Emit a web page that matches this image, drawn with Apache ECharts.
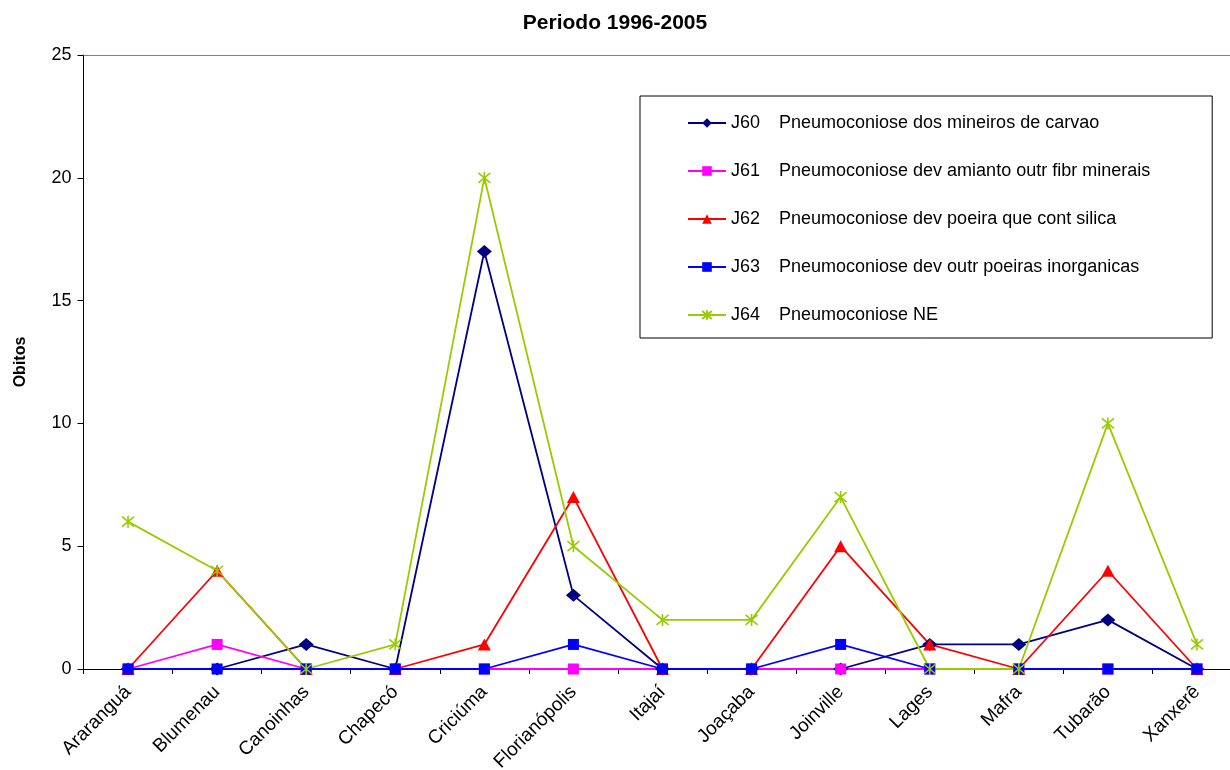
<!DOCTYPE html>
<html>
<head>
<meta charset="utf-8">
<script src="https://cdn.jsdelivr.net/npm/echarts@6/dist/echarts.min.js"></script>
<style>
  html, body { margin: 0; padding: 0; background: #fff; }
  #chart { width: 1230px; height: 770px; }
</style>
</head>
<body>
<div id="chart"></div>
<script>
const cities = ['Araranguá', 'Blumenau', 'Canoinhas', 'Chapecó', 'Criciúma', 'Florianópolis', 'Itajaí', 'Joaçaba', 'Joinville', 'Lages', 'Mafra', 'Tubarão', 'Xanxerê']

const j60 = [0, 0, 1, 0, 17, 3, 0, 0, 0, 1, 1, 2, 0]
const j61 = [0, 1, 0, 0, 0, 0, 0, 0, 0, 0, 0, 0, 0]
const j62 = [0, 4, 0, 0, 1, 7, 0, 0, 5, 1, 0, 4, 0]
const j63 = [0, 0, 0, 0, 0, 1, 0, 0, 1, 0, 0, 0, 0]
const j64 = [6, 4, 0, 1, 20, 5, 2, 2, 7, 0, 0, 10, 1]

const codes = ['J60', 'J61', 'J62', 'J63', 'J64']
const names = [
  'Pneumoconiose dos mineiros de carvao',
  'Pneumoconiose dev amianto outr fibr minerais',
  'Pneumoconiose dev poeira que cont silica',
  'Pneumoconiose dev outr poeiras inorganicas',
  'Pneumoconiose NE',
]

const font = 'Liberation Sans, Arial, sans-serif'
const asterisk = 'path://M0,0L10,10M10,0L0,10M5,-1L5,11'

// one entry per series: data, colour, marker
const looks = [
  { data: j60, color: '#000080', symbol: 'diamond', size: [15, 13] },
  { data: j61, color: '#FF00FF', symbol: 'rect', size: 11 },
  { data: j62, color: '#FF0000', symbol: 'triangle', size: [13, 12] },
  { data: j63, color: '#0000FF', symbol: 'rect', size: 11 },
  { data: j64, color: '#99CC00', symbol: asterisk, size: 12 },
]

const series = looks.map((s, i) => ({
  name: codes[i] + '|' + names[i],
  type: 'line',
  data: s.data,
  symbol: s.symbol,
  symbolSize: s.size,
  showAllSymbol: true,
  lineStyle: { color: s.color, width: 1.8 },
  itemStyle: {
    color: s.color,
    borderColor: s.color,
    borderWidth: s.symbol === asterisk ? 1.6 : 0,
  },
  emphasis: { disabled: true },
}))

const chart = echarts.init(document.getElementById('chart'))
chart.setOption({
  animation: false,
  backgroundColor: '#fff',
  textStyle: { fontFamily: font },
  title: {
    text: 'Periodo 1996-2005',
    left: 'center',
    top: 8,
    textStyle: { fontFamily: font, fontSize: 21, fontWeight: 'bold', color: '#000' },
  },
  legend: {
    orient: 'vertical',
    left: 640,
    top: 96,
    padding: [18, 62, 14, 47],
    itemGap: 30,
    itemWidth: 38,
    itemHeight: 12,
    backgroundColor: '#fff',
    borderColor: '#000',
    borderWidth: 1,
    borderRadius: 0,
    selectedMode: false,
    formatter: n => {
      const p = n.split('|')
      return '{a|' + p[0] + '}{b|' + p[1] + '}'
    },
    textStyle: {
      rich: {
        a: { width: 48, fontSize: 18, fontFamily: font, color: '#000', lineHeight: 20 },
        b: { fontSize: 18, fontFamily: font, color: '#000', lineHeight: 20 },
      },
    },
  },
  // the plot runs past the right edge of the picture
  grid: { left: 83.5, width: 1158, top: 55, bottom: 101, outerBoundsMode: 'none' },
  xAxis: [
    {
      type: 'category',
      data: cities,
      boundaryGap: true,
      axisLine: { lineStyle: { color: '#000', width: 1 } },
      axisTick: { show: true, length: 5, lineStyle: { color: '#000' } },
      axisLabel: { rotate: 45, fontSize: 19, color: '#000', fontFamily: font, margin: 20, interval: 0 },
      splitLine: { show: false },
    },
    {
      type: 'category',
      data: cities,
      position: 'top',
      axisLine: { lineStyle: { color: '#808080', width: 1 } },
      axisTick: { show: false },
      axisLabel: { show: false },
    },
  ],
  yAxis: {
    type: 'value',
    min: 0,
    max: 25,
    interval: 5,
    name: 'Obitos',
    nameLocation: 'middle',
    nameGap: 55,
    nameTextStyle: { fontFamily: font, fontSize: 16, fontWeight: 'bold', color: '#000' },
    axisLine: { show: true, lineStyle: { color: '#000', width: 1 } },
    axisTick: { show: true, length: 6, lineStyle: { color: '#000' } },
    axisLabel: { fontSize: 18, color: '#000', fontFamily: font, margin: 12 },
    splitLine: { show: false },
  },
  series: series,
})
</script>
</body>
</html>
